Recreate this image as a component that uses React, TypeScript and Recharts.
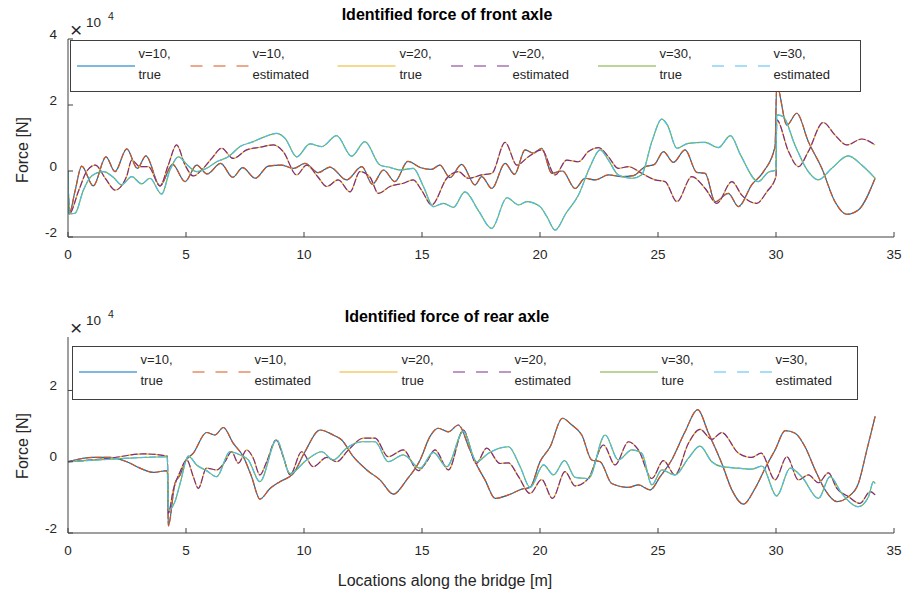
import React from "react";
import { Line, LineChart, XAxis, YAxis } from "recharts";

type Pt = [number, number];

// x in metres along the bridge, y in units of 10^4 N
const xTicks = [0, 5, 10, 15, 20, 25, 30, 35];
const frontYTicks = [-2, 0, 2, 4];
const rearYTicks = [-2, 0, 2];

const frontV10: Pt[] = [
  [0, 0], [0.05, -1.3], [0.3, -0.6], [0.58, 0.15], [1.07, -0.45], [1.61, 0.43], [1.99, -0.02],
  [2.49, 0.67], [2.94, 0.08], [3.3, 0.46], [3.9, -0.45], [4.43, 0.2], [4.96, -0.32], [5.45, 0.18],
  [5.9, -0.09], [6.47, 0.23], [6.98, -0.19], [7.4, 0.1], [7.93, -0.22], [8.49, 0.15], [9.05, 0.18],
  [9.55, 0.08], [10.04, 0.23], [10.6, -0.05], [11.1, 0.12], [11.8, -0.27], [12.45, 0.13], [12.9, -0.4],
  [13.37, 0.03], [13.85, -0.32], [14.4, 0.29], [14.95, 0.1], [15.4, 0.05], [15.76, 0.18], [16.18, -0.2],
  [16.68, 0.2], [17.25, -0.42], [17.53, -0.17], [17.96, -0.53], [18.52, 0.23], [18.92, -0.1],
  [19.37, 0.64], [19.72, 0.54], [20.07, 0.69], [20.5, -0.07], [20.95, 0.0], [21.49, -0.53],
  [21.91, -0.22], [22.33, -0.27], [22.9, -0.12], [23.46, -0.17], [23.96, -0.14], [24.45, 0.13],
  [24.85, 0.2], [25.23, 0.59], [25.65, 0.26], [26.15, 0.64], [26.64, -0.04], [27.0, -0.07],
  [27.42, -0.93], [27.98, -0.68], [28.41, -1.08], [28.97, -0.42], [29.47, -0.02], [29.96, 0.74],
  [30.03, 2.6], [30.46, 1.39], [30.88, 1.75], [31.37, 0.89], [31.94, 0.08], [32.5, -0.93],
  [33.0, -1.31], [33.49, -1.18], [34.2, -0.22],
];

const frontV20: Pt[] = [
  [0, 0], [0.05, -1.3], [0.45, -0.6], [0.8, 0.0], [1.16, 0.18], [1.58, -0.22], [2.0, -0.58],
  [2.49, -0.15], [2.7, 0.33], [3.05, 0.13], [3.4, 0.13], [3.9, -0.45], [4.25, 0.18], [4.6, 0.79],
  [4.96, 0.18], [5.31, -0.15], [5.73, 0.08], [6.09, 0.38], [6.51, 0.69], [7.0, 0.38], [7.57, 0.64],
  [8.14, 0.72], [8.7, 0.79], [9.12, 0.59], [9.69, -0.12], [10.11, 0.18], [10.6, -0.19], [10.96, -0.47],
  [11.45, -0.27], [11.95, -0.63], [12.37, -0.02], [12.8, -0.19], [13.15, -0.68], [13.64, -0.47],
  [14.21, -0.37], [14.63, -0.27], [14.98, -0.58], [15.41, -1.03], [16.05, -0.22], [16.54, -0.02],
  [16.96, -0.22], [17.53, -0.12], [17.96, -0.07], [18.52, 0.87], [19.02, 0.18], [19.51, 0.43],
  [20.07, 0.64], [20.64, -0.12], [21.13, 0.33], [21.63, 0.28], [22.05, 0.59], [22.48, 0.71],
  [22.9, 0.43], [23.32, 0.08], [23.75, 0.13], [24.31, -0.07], [24.88, -0.27], [25.3, -0.32],
  [25.8, -0.93], [26.43, -0.17], [27.0, -0.53], [27.49, -0.98], [28.13, -0.32], [28.55, -0.73],
  [29.18, -0.98], [29.61, -0.63], [30.0, -0.17], [30.03, 1.55], [30.53, 0.59], [30.95, 0.13],
  [31.37, 0.59], [32.0, 1.47], [32.5, 1.09], [33.0, 0.79], [33.63, 0.97], [34.2, 0.79],
];

const frontV30: Pt[] = [
  [0, 0], [0.05, -1.3], [0.3, -1.28], [0.65, -0.58], [1.0, -0.15], [1.5, -0.02], [1.92, -0.19],
  [2.27, -0.42], [2.7, -0.17], [3.12, -0.39], [3.47, -0.22], [3.97, -0.7], [4.32, 0.03], [4.68, 0.43],
  [5.1, 0.15], [5.45, -0.02], [5.87, 0.08], [6.3, 0.28], [6.79, 0.43], [7.29, 0.74], [7.85, 0.89],
  [8.27, 1.02], [8.84, 1.14], [9.2, 0.99], [9.69, 0.43], [10.25, 0.82], [10.75, 0.74], [11.38, 1.07],
  [12.02, 0.45], [12.58, 0.89], [13.22, 0.18], [13.64, 0.11], [14.07, 0.03], [14.63, 0.08],
  [15.06, -0.47], [15.48, -1.08], [15.9, -0.98], [16.33, -1.1], [16.82, -0.63], [17.39, -1.2],
  [17.95, -1.74], [18.6, -0.81], [19.1, -1.03], [19.44, -0.93], [20.0, -1.08], [20.29, -1.38],
  [20.64, -1.79], [21.1, -1.28], [21.63, -0.73], [22.12, 0.13], [22.55, 0.64], [22.9, 0.33],
  [23.32, -0.12], [23.9, -0.22], [24.3, -0.12], [24.74, 0.89], [25.16, 1.57], [25.4, 1.39],
  [25.8, 0.69], [26.28, 0.84], [26.99, 0.87], [27.56, 0.71], [28.07, 1.07], [28.5, 0.48],
  [29.25, -0.32], [29.67, -0.04], [30.0, 0.03], [30.03, 1.7], [30.3, 1.65], [30.8, 0.79],
  [31.37, -0.02], [31.79, -0.27], [32.36, 0.08], [33.06, 0.46], [33.63, 0.18], [34.2, -0.22],
];

const rearV10: Pt[] = [
  [0, 0], [1.07, 0.12], [1.78, 0.12], [2.49, 0], [3.05, -0.18], [3.62, -0.3], [4.21, -0.25],
  [4.25, -1.8], [4.53, -0.61], [4.75, -0.37], [4.96, 0], [5.31, 0.24], [5.87, 0.82], [6.23, 0.75],
  [6.58, 0.96], [7.0, 0.52], [7.43, 0.14], [7.78, -0.42], [8.13, -1.05], [8.56, -0.75], [8.98, -0.56],
  [9.55, -0.33], [10.04, 0.28], [10.68, 0.89], [11.24, 0.75], [11.6, 0.61], [12.09, 0.14],
  [12.66, -0.23], [13.22, -0.51], [13.79, -0.91], [14.35, -0.51], [14.92, 0.05], [15.34, 0.71],
  [15.69, 0.94], [16.12, 0.84], [16.54, 1.03], [17.03, 0.33], [17.39, -0.18], [17.67, -0.51],
  [18.1, -1.03], [18.66, -0.93], [19.23, -0.77], [19.58, -0.72], [20.0, 0], [20.43, 0.42],
  [20.95, 1.22], [21.35, 1.03], [21.77, 0.75], [22.19, 0.05], [22.55, 0], [23.04, -0.61],
  [23.75, -0.72], [24.17, -0.65], [24.67, -0.79], [25.09, -0.42], [25.58, 0.05], [26.15, 0.85],
  [26.68, 1.46], [27.14, 0.8], [27.7, -0.04], [28.13, -0.79], [28.62, -1.19], [29.11, -0.75],
  [29.61, -0.09], [29.96, 0.33], [30.39, 0.87], [30.81, 0.8], [31.23, 0.42], [31.66, -0.23],
  [32.08, -0.79], [32.58, -1.12], [33.07, -0.98], [33.49, -0.61], [33.85, 0.33], [34.2, 1.27],
];

const rearV20: Pt[] = [
  [0, 0], [1.78, 0.1], [3.19, 0.22], [4.21, 0.16], [4.25, -1.45], [4.46, -0.8], [4.75, -0.28],
  [5.03, 0.05], [5.31, -0.42], [5.52, -0.75], [5.87, -0.18], [6.3, -0.23], [6.65, 0], [6.93, 0.28],
  [7.22, -0.04], [7.57, 0.33], [7.85, 0.1], [8.13, -0.37], [8.42, 0], [8.81, 0.61], [9.12, 0.14],
  [9.41, -0.37], [9.9, 0.28], [10.39, -0.14], [10.96, 0.12], [11.38, 0], [11.88, 0.33], [12.51, 0.66],
  [13.01, 0.66], [13.57, 0.14], [14.21, 0.33], [14.84, -0.25], [15.2, 0], [15.55, 0.33],
  [16.12, -0.23], [16.75, 0.89], [17.3, -0.05], [17.74, 0.38], [18.31, -0.05], [18.66, -0.03],
  [19.09, -0.42], [19.58, -0.89], [20.07, -0.5], [20.53, -1.03], [21.06, -0.28], [21.49, -0.68],
  [22.05, -0.47], [22.69, 0.47], [23.18, -0.09], [23.75, 0.56], [24.17, 0.33], [24.74, -0.47],
  [25.23, 0.03], [25.72, -0.37], [26.29, 0.52], [26.78, 0.91], [27.28, 0.63], [27.7, 0.82],
  [28.41, 0.24], [28.97, 0.12], [29.37, 0.24], [29.96, -0.51], [30.46, 0.14], [30.95, -0.51],
  [31.37, -0.37], [31.8, -0.59], [32.22, -0.31], [32.58, -0.75], [33.07, -0.98], [33.56, -1.17],
  [33.99, -0.84], [34.2, -0.93],
];

const rearV30: Pt[] = [
  [0, 0], [1.78, 0.07], [4.21, 0.14], [4.25, -1.36], [4.53, -1.12], [4.75, -0.61], [5.1, 0.16],
  [5.45, -0.09], [5.87, -0.25], [6.3, -0.42], [6.86, 0.28], [7.29, 0.19], [7.64, 0.05], [8.13, -0.56],
  [8.84, 0.61], [9.41, -0.33], [10.11, 0.05], [10.75, 0.28], [11.24, 0.05], [11.8, 0.38], [12.45, 0.56],
  [13.01, 0.56], [13.57, 0], [14.21, 0.19], [14.92, -0.18], [15.48, 0.26], [16.05, -0.14], [16.75, 0.85],
  [17.32, 0.0], [17.82, 0.24], [18.66, 0.42], [19.16, -0.14], [19.58, -0.72], [20.15, -0.09],
  [20.57, -0.37], [21.04, 0.03], [21.49, -0.44], [22.05, -0.47], [22.76, 0.75], [23.32, 0.05],
  [23.89, 0.33], [24.31, 0.24], [24.74, -0.65], [25.16, -0.23], [25.72, -0.37], [26.29, 0.1],
  [26.78, 0.44], [27.28, 0], [27.7, -0.14], [28.41, -0.18], [28.97, -0.21], [29.4, -0.12],
  [30.03, -0.96], [30.6, -0.18], [31.09, -0.42], [31.8, -1.03], [32.29, -0.42], [32.79, -0.89],
  [33.49, -1.26], [33.92, -0.98], [34.13, -0.56], [34.2, -0.61],
];

// estimated curves sit on top of the true ones in the figure
const frontSeries = [
  { label: ["v=10,", "true"], color: "#0072BD", dashed: false, data: frontV10 },
  { label: ["v=10,", "estimated"], color: "#D95319", dashed: true, data: frontV10 },
  { label: ["v=20,", "true"], color: "#EDB120", dashed: false, data: frontV20 },
  { label: ["v=20,", "estimated"], color: "#7E2F8E", dashed: true, data: frontV20 },
  { label: ["v=30,", "true"], color: "#77AC30", dashed: false, data: frontV30 },
  { label: ["v=30,", "estimated"], color: "#4DBEEE", dashed: true, data: frontV30 },
];

const rearSeries = [
  { label: ["v=10,", "true"], color: "#0072BD", dashed: false, data: rearV10 },
  { label: ["v=10,", "estimated"], color: "#D95319", dashed: true, data: rearV10 },
  { label: ["v=20,", "true"], color: "#EDB120", dashed: false, data: rearV20 },
  { label: ["v=20,", "estimated"], color: "#7E2F8E", dashed: true, data: rearV20 },
  { label: ["v=30,", "ture"], color: "#77AC30", dashed: false, data: rearV30 },
  { label: ["v=30,", "estimated"], color: "#4DBEEE", dashed: true, data: rearV30 },
];

type Series = typeof frontSeries;

const FONT = "'Liberation Sans', Arial, Helvetica, sans-serif";
const INK = "#262626";
const AXIS = "#404040";
const PLOT_LEFT = 68;

const toRows = (pts: Pt[]) => pts.map(([x, y]) => ({ x, y }));

const makeYTick = () => (props: any) => {
  const { y, payload } = props;
  return (
    <g>
      <line x1={PLOT_LEFT} x2={PLOT_LEFT + 5} y1={y} y2={y} stroke={AXIS} />
      <text
        x={PLOT_LEFT - 11}
        y={y - 5}
        textAnchor="end"
        dominantBaseline="central"
        fontSize={13.5}
        fontFamily={FONT}
        fill={INK}
      >
        {payload.value}
      </text>
    </g>
  );
};

const makeXTick = (axisY: number) => (props: any) => {
  const { x, payload } = props;
  return (
    <g>
      <line x1={x} x2={x} y1={axisY} y2={axisY - 5} stroke={AXIS} />
      <text
        x={x}
        y={axisY + 17}
        textAnchor="middle"
        dominantBaseline="central"
        fontSize={13.5}
        fontFamily={FONT}
        fill={INK}
      >
        {payload.value}
      </text>
    </g>
  );
};

function ForcePanel({
  series,
  top,
  height,
  margin,
  yDomain,
  yTicks,
}: {
  series: Series;
  top: number;
  height: number;
  margin: { top: number; right: number; bottom: number; left: number };
  yDomain: [number, number];
  yTicks: number[];
}) {
  const axisY = height - margin.bottom - 30;
  return (
    <div style={{ position: "absolute", left: 0, top }}>
      <LineChart width={903} height={height} margin={margin}>
        <XAxis
          dataKey="x"
          type="number"
          domain={[0, 35]}
          ticks={xTicks}
          height={30}
          tickLine={false}
          axisLine={{ stroke: AXIS }}
          tick={makeXTick(axisY)}
          allowDataOverflow
        />
        <YAxis
          type="number"
          domain={yDomain}
          ticks={yTicks}
          width={60}
          tickLine={false}
          axisLine={{ stroke: AXIS }}
          tick={makeYTick()}
          allowDataOverflow
        />
        {series.map((s, i) => (
          <Line
            key={i}
            name={s.label.join(" ")}
            data={toRows(s.data)}
            dataKey="y"
            type="monotone"
            stroke={s.color}
            strokeWidth={1.2}
            strokeDasharray={s.dashed ? "7 2" : undefined}
            dot={false}
            activeDot={false}
            isAnimationActive={false}
          />
        ))}
      </LineChart>
    </div>
  );
}

const lineOffsets = [6.5, 120, 267, 380.5, 527.5, 641.5];
const textOffsets = [68, 182, 329, 442, 589, 703];

function LegendBox({ series, x, y, w, h }: { series: Series; x: number; y: number; w: number; h: number }) {
  return (
    <g>
      <rect x={x} y={y} width={w} height={h} fill="#fff" stroke={AXIS} strokeWidth={1} />
      {series.map((s, i) => (
        <g key={i}>
          <line
            x1={x + lineOffsets[i]}
            x2={x + lineOffsets[i] + 58}
            y1={y + 25.5}
            y2={y + 25.5}
            stroke={s.color}
            strokeWidth={1}
            strokeDasharray={s.dashed ? "12 11" : undefined}
          />
          <text x={x + textOffsets[i]} y={y + 13} dominantBaseline="central" fontSize={13} fontFamily={FONT} fill={INK}>
            {s.label[0]}
          </text>
          <text x={x + textOffsets[i]} y={y + 34} dominantBaseline="central" fontSize={13} fontFamily={FONT} fill={INK}>
            {s.label[1]}
          </text>
        </g>
      ))}
    </g>
  );
}

function Exponent({ plotTop }: { plotTop: number }) {
  return (
    <g fontFamily={FONT} fill={INK}>
      <text x={70} y={plotTop - 10} dominantBaseline="central" fontSize={21}>
        ×
      </text>
      <text x={86} y={plotTop - 17} dominantBaseline="central" fontSize={13.5}>
        10
      </text>
      <text x={108} y={plotTop - 23} dominantBaseline="central" fontSize={10.5}>
        4
      </text>
    </g>
  );
}

export default function App() {
  return (
    <div style={{ position: "absolute", left: 0, top: 0, width: 903, height: 593, background: "#fff" }}>
      <ForcePanel
        series={frontSeries}
        top={0}
        height={280}
        margin={{ top: 39, right: 9, bottom: 13, left: 8 }}
        yDomain={[-2, 4]}
        yTicks={frontYTicks}
      />
      <ForcePanel
        series={rearSeries}
        top={290}
        height={303}
        margin={{ top: 47, right: 9, bottom: 30, left: 8 }}
        yDomain={[-2, 3.5]}
        yTicks={rearYTicks}
      />
      <svg width={903} height={593} style={{ position: "absolute", left: 0, top: 0, pointerEvents: "none" }}>
        <text x={447} y={14} textAnchor="middle" dominantBaseline="central" fontSize={16} fontWeight="bold" fontFamily={FONT} fill="#000">
          Identified force of front axle
        </text>
        <text x={447} y={316} textAnchor="middle" dominantBaseline="central" fontSize={16} fontWeight="bold" fontFamily={FONT} fill="#000">
          Identified force of rear axle
        </text>
        <Exponent plotTop={39} />
        <Exponent plotTop={337} />
        <text
          transform="translate(22,150) rotate(-90)"
          textAnchor="middle"
          dominantBaseline="central"
          fontSize={16}
          fontFamily={FONT}
          fill={INK}
        >
          Force [N]
        </text>
        <text
          transform="translate(22,446) rotate(-90)"
          textAnchor="middle"
          dominantBaseline="central"
          fontSize={16}
          fontFamily={FONT}
          fill={INK}
        >
          Force [N]
        </text>
        <text x={445} y={580} textAnchor="middle" dominantBaseline="central" fontSize={16} fontFamily={FONT} fill={INK}>
          Locations along the bridge [m]
        </text>
        <LegendBox series={frontSeries} x={70.5} y={40.5} w={790} h={51} />
        <LegendBox series={rearSeries} x={72.5} y={346.5} w={785} h={53} />
      </svg>
    </div>
  );
}
